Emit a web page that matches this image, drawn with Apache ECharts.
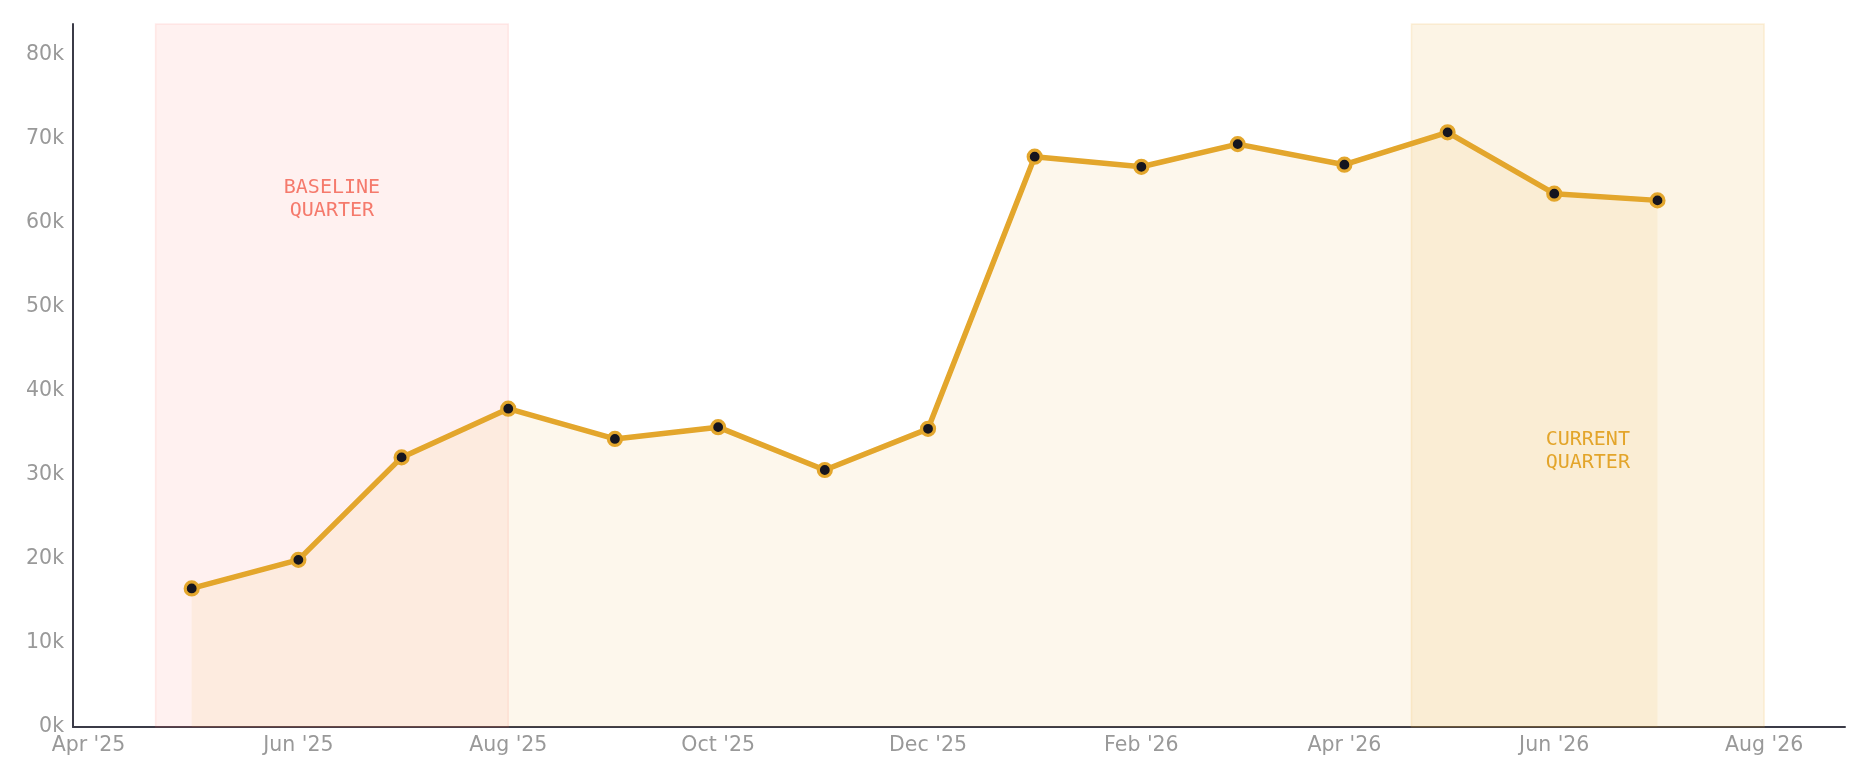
<!DOCTYPE html>
<html lang="en">

<head>
    <meta charset="UTF-8">
    <script src="https://cdn.jsdelivr.net/npm/echarts@6/dist/echarts.min.js"></script>
    <title>monthly line</title>
    <style>
        html, body { margin: 0; padding: 0; background: #fff; }
        #main { width: 1870px; height: 781px; }
    </style>
</head>

<body>
    <div id="main"></div>

    <script type="text/javascript">
        // monthly values, first of each month
        let months = ['2025-05-01', '2025-06-01', '2025-07-01', '2025-08-01', '2025-09-01',
            '2025-10-01', '2025-11-01', '2025-12-01', '2026-01-01', '2026-02-01',
            '2026-03-01', '2026-04-01', '2026-05-01', '2026-06-01', '2026-07-01'];
        let values = [16500, 19900, 32100, 37900, 34300, 35700, 30600, 35500,
            67900, 66700, 69400, 66950, 70800, 63500, 62700];

        let tickDates = ['2025-04-01', '2025-06-01', '2025-08-01', '2025-10-01', '2025-12-01',
            '2026-02-01', '2026-04-01', '2026-06-01', '2026-08-01'];
        let yTicks = [0, 10000, 20000, 30000, 40000, 50000, 60000, 70000, 80000];

        let baselineBand = ['2025-04-20T12:00:00', '2025-08-01'];
        let currentBand = ['2026-04-20T12:00:00', '2026-08-01'];

        let monthNames = ['Jan', 'Feb', 'Mar', 'Apr', 'May', 'Jun', 'Jul', 'Aug', 'Sep', 'Oct', 'Nov', 'Dec'];
        let lineColor = '#e3a62c';

        function ts(d) {
            return +new Date(d.length > 10 ? d : d + 'T00:00:00');
        }

        let chart = echarts.init(document.getElementById('main'));

        // the x axis is a plain value axis over timestamps so the ticks can be listed
        let option = {
            animation: false,
            grid: { left: 73, right: 25, top: 24, bottom: 54 },
            xAxis: {
                type: 'value',
                min: ts('2025-03-27T12:00:00'),
                max: ts('2026-08-24T12:00:00'),
                axisLine: { show: true, lineStyle: { color: '#3b3b47', width: 2 } },
                axisTick: { show: false },
                splitLine: { show: false },
                axisLabel: {
                    customValues: tickDates.map(ts),
                    color: '#999999',
                    fontFamily: 'DejaVu Sans',
                    fontSize: 20.5,
                    margin: 8,
                    formatter: function (v) {
                        let d = new Date(v);
                        return monthNames[d.getMonth()] + " '" + String(d.getFullYear()).slice(2);
                    }
                }
            },
            yAxis: {
                type: 'value',
                min: 0,
                max: 83700,
                axisLine: { show: true, lineStyle: { color: '#3b3b47', width: 2 } },
                axisTick: { show: false },
                splitLine: { show: false },
                axisLabel: {
                    customValues: yTicks,
                    color: '#999999',
                    fontFamily: 'DejaVu Sans',
                    fontSize: 20.5,
                    margin: 9,
                    formatter: function (v) { return (v / 1000) + 'k'; }
                }
            },
            series: [{
                type: 'line',
                data: months.map(function (m, i) { return [ts(m), values[i]]; }),
                symbol: 'circle',
                symbolSize: 13,
                lineStyle: { color: lineColor, width: 5.5 },
                itemStyle: { color: '#15151f', borderColor: lineColor, borderWidth: 3.2 },
                areaStyle: { color: 'rgba(232, 166, 40, 0.12)' },
                z: 3,
                markArea: {
                    silent: true,
                    data: [
                        [{
                            xAxis: ts(baselineBand[0]),
                            itemStyle: { color: 'rgba(255, 110, 100, 0.095)', borderColor: 'rgba(255, 110, 100, 0.12)', borderWidth: 1.5 },
                            label: {
                                show: true,
                                formatter: 'BASELINE\nQUARTER',
                                position: ['50%', '25%'],
                                align: 'center',
                                verticalAlign: 'middle',
                                color: '#f57a6c',
                                fontFamily: 'DejaVu Sans Mono',
                                fontSize: 20,
                                lineHeight: 23
                            }
                        }, { xAxis: ts(baselineBand[1]) }],
                        [{
                            xAxis: ts(currentBand[0]),
                            itemStyle: { color: 'rgba(232, 166, 40, 0.12)', borderColor: 'rgba(232, 166, 40, 0.15)', borderWidth: 1.5 },
                            label: {
                                show: true,
                                formatter: 'CURRENT\nQUARTER',
                                position: ['50%', '60.8%'],
                                align: 'center',
                                verticalAlign: 'middle',
                                color: '#e3a62c',
                                fontFamily: 'DejaVu Sans Mono',
                                fontSize: 20,
                                lineHeight: 23
                            }
                        }, { xAxis: ts(currentBand[1]) }]
                    ]
                }
            }]
        };

        chart.setOption(option);
    </script>
</body>

</html>
